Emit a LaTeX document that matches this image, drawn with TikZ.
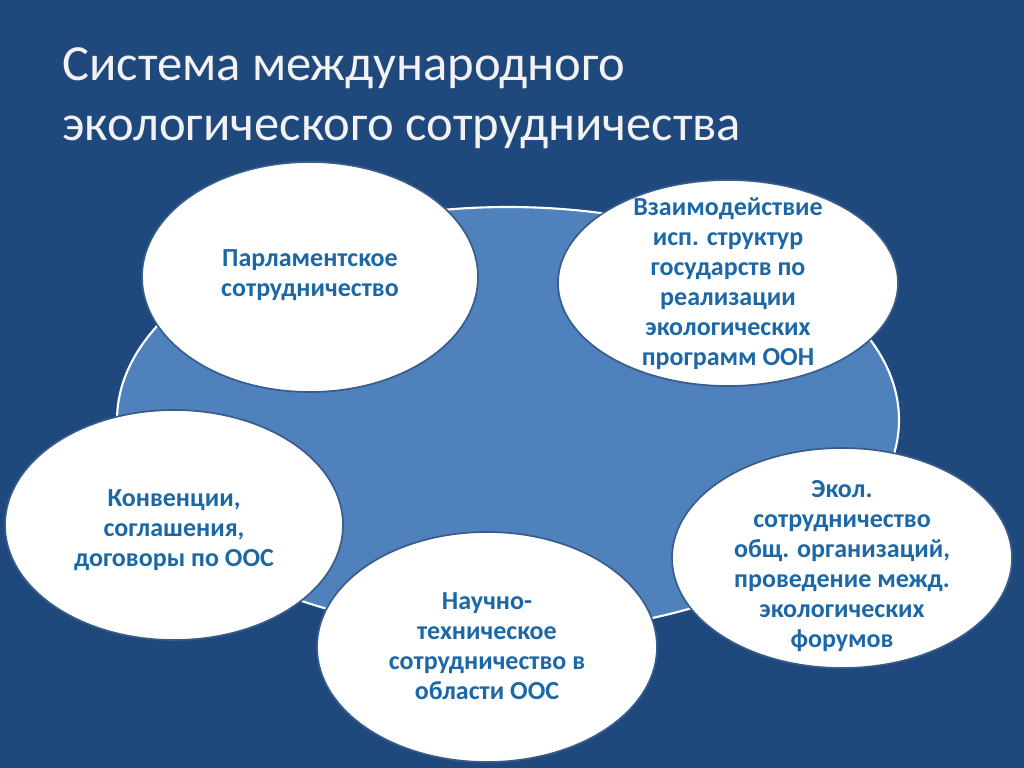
\documentclass[tikz,border=0pt]{standalone}
\usepackage{fontspec}
\setmainfont{Carlito}
\usetikzlibrary{positioning}

\definecolor{slideblue}{RGB}{31,73,125}
\definecolor{ringblue}{RGB}{79,129,189}
\definecolor{edgeblue}{RGB}{56,93,138}
\definecolor{textblue}{RGB}{28,104,166}
\definecolor{titlegray}{RGB}{242,242,242}

\tikzset{
  bubble/.style={fill=white, draw=edgeblue, line width=1.2pt},
  bubbletext/.style={text=textblue, align=center, inner sep=0pt,
    font=\fontsize{18.5}{21.3}\selectfont\bfseries}
}

\begin{document}
\begin{tikzpicture}[x=0.025cm, y=-0.025cm]
      % Draw the slide background
      \fill[slideblue] (0,0) rectangle (1024,768);
      \useasboundingbox (0,0) rectangle (1024,768);

      % Title
      \node[anchor=base west, align=left, inner sep=0pt, text=titlegray,
        font=\fontsize{36}{43}\selectfont] (title) at (62,141)
        {Система международного\\экологического сотрудничества};

      % Draw the big ellipse behind
      \draw[fill=ringblue, draw=white, line width=1.5pt] (508,420) ellipse [x radius=391, y radius=213];

      % Draw the small ellipses
      \draw[bubble] (310,277) ellipse [x radius=168, y radius=115];
      \node[bubbletext] (parl) at (310,275) {Парламентское\\сотрудничество};

      \draw[bubble] (728,283) ellipse [x radius=170, y radius=103];
      \node[bubbletext] (vzaim) at (728,284) {Взаимодействие\\исп. структур\\государств по\\реализации\\экологических\\программ ООН};

      \draw[bubble] (174,525) ellipse [x radius=169, y radius=115];
      \node[bubbletext] (konv) at (174,530) {Конвенции,\\соглашения,\\договоры по ООС};

      \draw[bubble] (842,558) ellipse [x radius=170, y radius=110];
      \node[bubbletext] (ekol) at (842,566) {Экол.\\сотрудничество\\общ. организаций,\\проведение межд.\\экологических\\форумов};

      \draw[bubble] (487,647) ellipse [x radius=170, y radius=115];
      \node[bubbletext] (nauch) at (487,646) {Научно-\\техническое\\сотрудничество в\\области ООС};

\end{tikzpicture}
\end{document}
